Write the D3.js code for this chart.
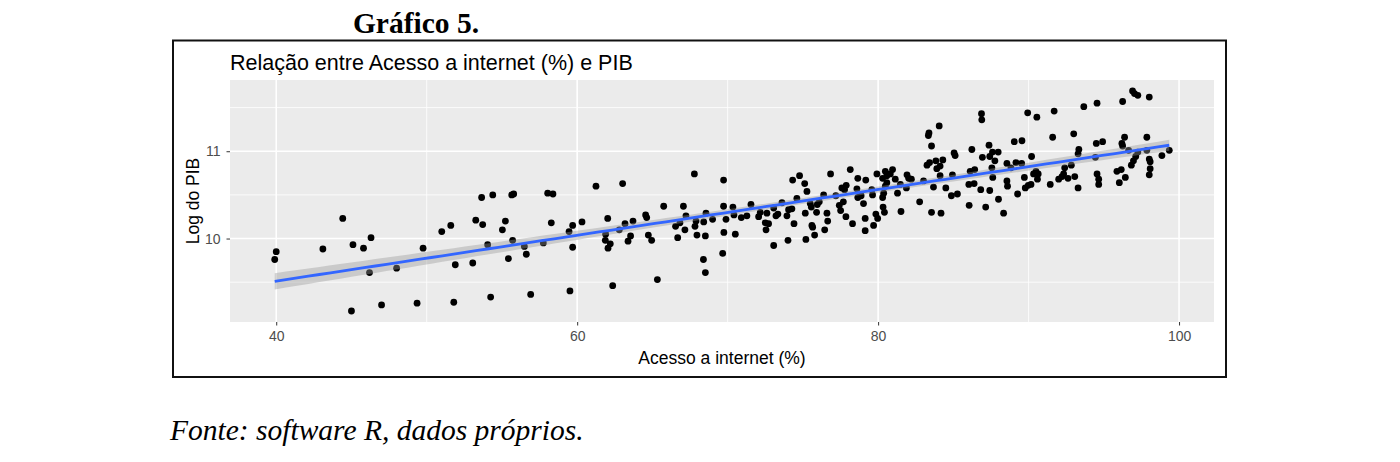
<!DOCTYPE html>
<html>
<head>
<meta charset="utf-8">
<script src="https://cdn.jsdelivr.net/npm/d3@7"></script>
<style>
  body { margin: 0; background: #fff; }
  svg { display: block; }
</style>
</head>
<body>
<svg width="1400" height="462"></svg>
<script>
// values: acesso a internet (%) and log do PIB
var internet = [
  40.0, 39.9, 43.1, 44.42, 45.1, 45.8, 46.3, 46.2, 48.0, 45.0, 47.0,
  49.36, 49.76, 51.0, 51.6, 51.9, 51.8, 53.06, 53.26, 53.65, 53.72, 54.39, 54.05, 54.25,
  55.03, 55.23, 55.65, 55.78, 55.71, 55.43, 56.49, 56.62, 56.91, 57.75, 58.04, 58.39,
  58.28, 59.46, 59.7, 59.7, 59.52,
  60.32, 61.25, 62.03, 61.89, 61.87, 62.2, 62.05, 62.36, 62.8, 63.02, 63.18, 63.55,
  63.38, 63.71, 64.55, 64.62, 64.73, 64.95, 65.33, 65.75, 66.54, 66.68, 66.83, 67.06,
  67.23, 67.16, 67.79, 67.83, 67.96, 67.9, 68.39, 68.52, 68.41, 68.52, 68.56, 69.0,
  69.73, 69.73, 69.89, 69.75, 69.67, 70.35, 70.51, 70.42, 70.91,
  71.28, 71.55, 72.06, 72.17, 72.61, 72.5, 72.72, 72.55, 73.06, 73.06, 73.21, 73.34,
  73.61, 73.94, 74.01, 74.05, 74.27, 74.32, 74.41, 74.6, 74.78, 75.12, 75.27, 75.16,
  75.49, 75.56, 75.6, 75.65, 75.78, 75.2, 75.96, 75.91, 76.09, 76.38, 76.6, 76.65,
  76.45, 76.84, 77.19, 77.42, 77.51, 77.59, 77.69, 77.77, 77.86, 77.88, 78.15, 78.3,
  78.59, 78.65, 78.65, 78.87, 79.03, 79.18, 79.14, 79.14, 79.58, 79.63, 79.7, 79.85,
  79.97, 79.92, 80.3, 80.48, 80.58, 80.81, 80.96, 81.14, 80.58, 80.48, 80.3, 80.37,
  80.33, 80.42, 81.29,
  81.52, 81.48, 81.92, 82.03, 82.21, 81.88, 82.76, 83.02, 83.25, 83.42, 83.34, 83.38,
  83.55, 83.55, 83.68, 83.84, 83.9, 84.12, 84.3, 84.06, 84.18, 84.12, 84.5, 84.87,
  84.94, 85.05, 85.12, 85.27, 86.05, 86.03, 86.12, 86.23, 86.38, 86.42, 86.87, 86.89,
  86.82, 86.93, 87.15, 87.37, 87.42, 87.42, 87.6, 87.62, 87.56, 87.76, 87.98, 88.0,
  88.34, 88.56, 88.56, 88.6, 88.83, 89.05, 89.16, 89.27, 89.56, 89.54, 89.72, 89.78,
  89.94, 89.98, 90.16, 90.2, 90.33, 90.49, 90.59, 90.55, 90.64, 91.44, 91.6, 91.7,
  92.0, 92.22, 92.33, 92.4, 92.62, 92.84, 93.0, 93.07, 93.29, 93.29, 93.34, 93.67,
  94.44, 94.55, 94.5, 94.55, 94.66, 94.66, 94.92, 95.87, 96.03, 96.16, 96.2, 96.25,
  96.38, 96.25, 96.43, 96.65, 96.83, 96.91, 97.04, 97.26, 96.97, 97.12, 97.26, 97.86,
  98.02, 97.86, 98.02, 98.08, 98.08, 98.02, 98.86, 99.35
];
var logPib = [
  9.85, 9.76, 9.88, 10.23, 9.93, 9.89, 10.01, 9.61, 9.66, 9.17, 9.24,
  9.26, 9.89, 10.08, 10.15, 9.70, 9.27, 9.72, 10.21, 10.47, 10.16, 10.50, 9.93, 9.33,
  10.10, 10.20, 10.50, 10.51, 9.98, 9.77, 9.91, 9.82, 9.36, 9.95, 10.52, 10.51,
  10.18, 10.08, 10.15, 9.90, 9.40,
  10.19, 10.60, 10.23, 10.05, 9.98, 9.94, 9.89, 9.46, 10.10, 10.63, 10.17, 10.03,
  9.97, 10.20, 10.27, 10.24, 10.04, 9.98, 9.53, 10.37, 10.14, 10.01, 10.18, 10.37,
  10.26, 10.10, 10.74, 10.14, 10.04, 10.20, 9.76, 9.61, 10.19, 10.03, 10.29, 10.22,
  10.67, 10.37, 10.22, 10.07, 9.83, 10.36, 10.05, 10.27, 10.24,
  10.26, 10.39, 10.25, 10.30, 10.29, 10.18, 10.17, 10.10, 9.92, 10.35, 10.26, 10.28,
  10.41, 10.26, 9.98, 10.33, 10.34, 10.67, 10.17, 10.46, 10.72, 10.63, 10.54, 10.29,
  10.40, 10.36, 10.15, 10.13, 10.04, 9.99, 10.39, 10.30, 10.42, 10.50, 10.29, 10.20,
  10.10, 10.74, 10.49, 10.38, 10.32, 10.58, 10.42, 10.56, 10.25, 10.61, 10.79, 10.17,
  10.57, 10.69, 10.47, 10.49, 10.40, 10.67, 10.23, 10.09, 10.56, 10.50, 10.15, 10.28,
  10.23, 10.74, 10.69, 10.77, 10.72, 10.74, 10.79, 10.68, 10.64, 10.60, 10.47, 10.52,
  10.36, 10.30, 10.52,
  10.31, 10.62, 10.73, 10.69, 10.68, 10.58, 10.42, 10.66, 10.84, 10.87, 11.18, 11.21,
  11.06, 10.30, 10.59, 10.89, 10.80, 10.83, 10.90, 11.29, 10.29, 10.72, 10.58, 10.49,
  10.73, 10.98, 10.95, 10.51, 10.38, 10.62, 10.77, 11.02, 10.63, 10.79, 11.43, 11.36,
  10.56, 10.93, 10.36, 11.07, 10.94, 10.55, 10.99, 10.70, 10.81, 10.89, 10.99, 10.45,
  10.29, 10.86, 10.66, 10.60, 10.81, 11.11, 10.87, 10.51, 11.12, 10.86, 10.70, 10.58,
  11.44, 10.61, 10.62, 10.94, 10.74, 10.77, 10.68, 11.39, 10.74, 10.62, 11.16, 11.46,
  10.68, 10.71, 10.74, 10.81, 10.69, 10.84, 11.20, 10.71, 10.58, 10.97, 11.02, 11.51,
  10.93, 11.55, 11.09, 10.74, 10.68, 10.62, 11.11, 10.77, 10.64, 10.79, 11.09, 11.57,
  11.16, 11.06, 10.70, 11.01, 10.84, 11.69, 11.66, 11.64, 10.89, 10.94, 10.99, 11.16,
  11.62, 11.01, 10.91, 10.88, 10.80, 10.73, 10.95, 11.01
];
var xTicks = [40, 60, 80, 100];
var xMinor = [50, 70, 90];
var yTicks = [10, 11];
var yMinor = [9.5, 10.5, 11.5];

var svg = d3.select('svg');
var panel = { left: 230, right: 1214, top: 80, bottom: 322 };

var data = internet.map(function (d, i) { return { x: d, y: logPib[i] }; });

// ggplot style 5% expansion on both axes
function expand(ext) {
  var pad = (ext[1] - ext[0]) * 0.05;
  return [ext[0] - pad, ext[1] + pad];
}
var x = d3.scaleLinear()
  .domain(expand(d3.extent(internet)))
  .range([panel.left, panel.right]);
var y = d3.scaleLinear()
  .domain(expand(d3.extent(logPib)))
  .range([panel.bottom, panel.top]);

// outer frame and headings
svg.append('rect')
  .attr('x', 173).attr('y', 40.5)
  .attr('width', 1053).attr('height', 336.5)
  .attr('fill', 'none').attr('stroke', '#111').attr('stroke-width', 2);

svg.append('text')
  .attr('x', 416).attr('y', 33)
  .attr('text-anchor', 'middle')
  .style('font-family', '"Liberation Serif", "Times New Roman", serif')
  .style('font-weight', 'bold').style('font-size', '29.5px')
  .text('Gráfico 5.');

svg.append('text')
  .attr('x', 170).attr('y', 440)
  .style('font-family', '"Liberation Serif", "Times New Roman", serif')
  .style('font-style', 'italic').style('font-size', '29.5px')
  .text('Fonte: software R, dados próprios.');

// panel
svg.append('rect')
  .attr('x', panel.left).attr('y', panel.top)
  .attr('width', panel.right - panel.left).attr('height', panel.bottom - panel.top)
  .attr('fill', '#ebebeb');

var grid = svg.append('g');
grid.selectAll('.xmin').data(xMinor).enter().append('line')
  .attr('x1', x).attr('x2', x).attr('y1', panel.top).attr('y2', panel.bottom)
  .attr('stroke', '#fff').attr('stroke-width', 0.8);
grid.selectAll('.ymin').data(yMinor).enter().append('line')
  .attr('y1', y).attr('y2', y).attr('x1', panel.left).attr('x2', panel.right)
  .attr('stroke', '#fff').attr('stroke-width', 0.8);
grid.selectAll('.xmaj').data(xTicks).enter().append('line')
  .attr('x1', x).attr('x2', x).attr('y1', panel.top).attr('y2', panel.bottom)
  .attr('stroke', '#fff').attr('stroke-width', 1.6);
grid.selectAll('.ymaj').data(yTicks).enter().append('line')
  .attr('y1', y).attr('y2', y).attr('x1', panel.left).attr('x2', panel.right)
  .attr('stroke', '#fff').attr('stroke-width', 1.6);

// points
svg.append('g').selectAll('circle')
  .data(data).enter().append('circle')
  .attr('cx', function (d) { return x(d.x); })
  .attr('cy', function (d) { return y(d.y); })
  .attr('r', 3.4)
  .attr('fill', '#000');

// linear fit with 95% band (geom_smooth(method = "lm"))
var n = data.length;
var mx = d3.mean(internet), my = d3.mean(logPib);
var sxx = d3.sum(internet, function (v) { return (v - mx) * (v - mx); });
var sxy = d3.sum(data, function (d) { return (d.x - mx) * (d.y - my); });
var slope = sxy / sxx, icpt = my - slope * mx;
var sse = d3.sum(data, function (d) { var r = d.y - (icpt + slope * d.x); return r * r; });
var s = Math.sqrt(sse / (n - 2));
var tq = 1.969;
var xr = d3.extent(internet);
var fit = d3.range(0, 81).map(function (i) {
  var xv = xr[0] + (xr[1] - xr[0]) * i / 80;
  var yv = icpt + slope * xv;
  var se = s * Math.sqrt(1 / n + (xv - mx) * (xv - mx) / sxx);
  return { x: xv, y: yv, lo: yv - tq * se, hi: yv + tq * se };
});

svg.append('path')
  .datum(fit)
  .attr('d', d3.area()
    .x(function (d) { return x(d.x); })
    .y0(function (d) { return y(d.lo); })
    .y1(function (d) { return y(d.hi); }))
  .attr('fill', '#999999').attr('fill-opacity', 0.4);

svg.append('path')
  .datum(fit)
  .attr('d', d3.line()
    .x(function (d) { return x(d.x); })
    .y(function (d) { return y(d.y); }))
  .attr('fill', 'none').attr('stroke', '#3366ff').attr('stroke-width', 2.8);

// axes
var xAxis = svg.append('g')
  .attr('transform', 'translate(0,' + panel.bottom + ')')
  .call(d3.axisBottom(x).tickValues(xTicks).tickFormat(d3.format('d'))
    .tickSize(3.5).tickPadding(6));
var yAxis = svg.append('g')
  .attr('transform', 'translate(' + panel.left + ',0)')
  .call(d3.axisLeft(y).tickValues(yTicks).tickFormat(d3.format('d'))
    .tickSize(3.5).tickPadding(6));

[xAxis, yAxis].forEach(function (a) {
  a.select('.domain').remove();
  a.selectAll('.tick line').attr('stroke', '#333').attr('stroke-width', 1);
  a.selectAll('.tick text')
    .attr('fill', '#4d4d4d')
    .style('font-family', '"Liberation Sans", Arial, sans-serif')
    .style('font-size', '14px');
});

svg.append('text')
  .attr('x', (panel.left + panel.right) / 2).attr('y', 364)
  .attr('text-anchor', 'middle')
  .style('font-family', '"Liberation Sans", Arial, sans-serif')
  .style('font-size', '17.5px')
  .text('Acesso a internet (%)');

svg.append('text')
  .attr('transform', 'translate(199,' + (panel.top + panel.bottom) / 2 + ') rotate(-90)')
  .attr('text-anchor', 'middle')
  .style('font-family', '"Liberation Sans", Arial, sans-serif')
  .style('font-size', '17.5px')
  .text('Log do PIB');

svg.append('text')
  .attr('x', panel.left).attr('y', 70)
  .style('font-family', '"Liberation Sans", Arial, sans-serif')
  .style('font-size', '21.5px')
  .text('Relação entre Acesso a internet (%) e PIB');
</script>
</body>
</html>
